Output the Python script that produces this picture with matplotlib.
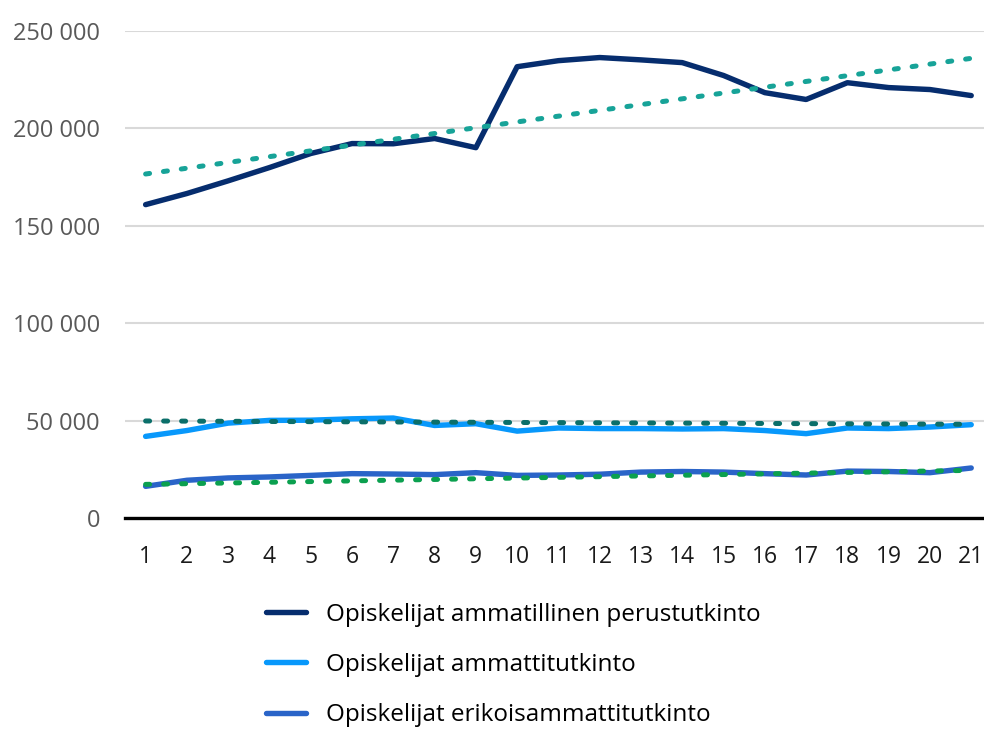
import numpy as np
import matplotlib.pyplot as plt
from matplotlib.ticker import FuncFormatter

# data
years = list(range(1, 22))
perustutkinto = [160800, 166500, 173000, 179800, 187000, 192100, 192000, 194700, 190000, 231500,
                 234600, 236200, 235000, 233600, 227000, 218200, 214700, 223300, 220800, 219800, 216700]
ammattitutkinto = [42000, 45000, 48800, 50200, 50300, 51000, 51400, 47600, 48500, 44700,
                   46300, 46000, 46000, 45800, 46000, 45000, 43400, 46300, 46000, 46800, 48000]
erikois = [16400, 19500, 20700, 21200, 22000, 22900, 22700, 22400, 23400, 22000,
           22200, 22600, 23700, 24000, 23700, 22900, 22200, 24200, 24000, 23400, 25800]

# linear trend end points (x = 1 and x = 21)
trend_x = [1, 21]
trend_perus = [176500, 235800]
trend_ammatti = [49900, 48200]
trend_erikois = [17400, 24600]

labels = ['Opiskelijat ammatillinen perustutkinto',
          'Opiskelijat ammattitutkinto',
          'Opiskelijat erikoisammattitutkinto']

plt.rcParams['font.family'] = ['Open Sans', 'DejaVu Sans']

fig = plt.figure(figsize=(9.84, 7.29), dpi=100)
ax = fig.add_axes([0.127, 0.289, 0.881, 0.669])

dot = dict(linestyle=(0, (0.8, 2.8)), dash_capstyle='round', lw=3.6)
ax.plot(trend_x, trend_perus, color='#17a398', **dot, zorder=4)
ax.plot(trend_x, trend_ammatti, color='#0b6f6a', **dot, zorder=4)
ax.plot(trend_x, trend_erikois, color='#0ba04f', **dot, zorder=4)

l1, = ax.plot(years, perustutkinto, color='#062d6e', lw=3.9, solid_capstyle='round', zorder=3)
l2, = ax.plot(years, ammattitutkinto, color='#0898fb', lw=3.9, solid_capstyle='round', zorder=3)
l3, = ax.plot(years, erikois, color='#2a64c8', lw=3.9, solid_capstyle='round', zorder=3)

ax.set_xlim(0.5, 21.5)
ax.set_ylim(0, 250000)
ax.set_xticks(years)
ax.set_yticks(range(0, 250001, 50000))
ax.yaxis.set_major_formatter(FuncFormatter(lambda v, p: f'{int(v):,}'.replace(',', ' ')))
ax.tick_params(axis='both', length=0)
ax.tick_params(axis='y', colors='#595959', pad=18, labelsize=17)
ax.tick_params(axis='x', colors='#1a1a1a', pad=19, labelsize=16.5)

ax.grid(axis='y', color='#d9d9d9', lw=1.5)
ax.set_axisbelow(True)
for s in ['top', 'right', 'left']:
    ax.spines[s].set_visible(False)
ax.spines['bottom'].set_color('black')
ax.spines['bottom'].set_linewidth(2.4)

fig.legend([l1, l2, l3], labels, loc='upper left', bbox_to_anchor=(0.258, 0.19),
           frameon=False, fontsize=17.5, handlelength=1.65, handletextpad=0.82,
           labelspacing=1.08, borderpad=0)

fig.savefig('out.png', dpi=100)
